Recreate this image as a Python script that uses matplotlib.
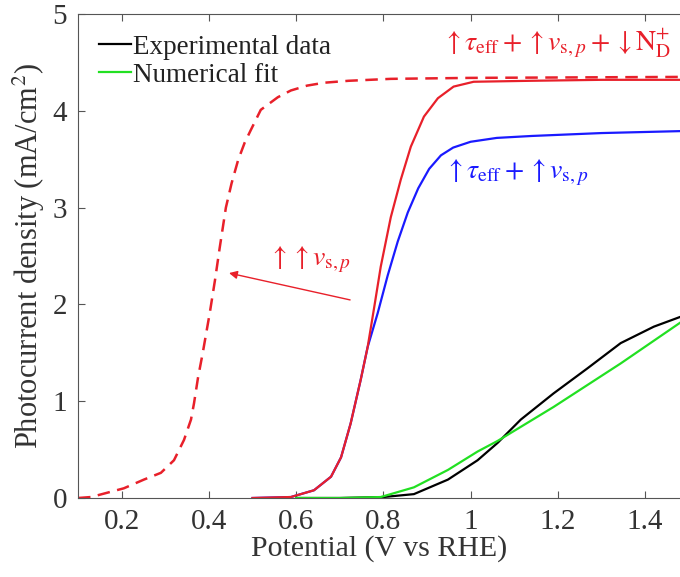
import numpy as np
import matplotlib
matplotlib.use("Agg")
import matplotlib.pyplot as plt

plt.rcParams['font.family'] = ['Liberation Serif', 'DejaVu Serif']
plt.rcParams['mathtext.fontset'] = 'stix'

# Simulated curve: higher surface rate (dashed red)
v_dash = [0.10, 0.13, 0.205, 0.251, 0.29, 0.32, 0.343, 0.359, 0.366, 0.375,
          0.386, 0.402, 0.414, 0.425, 0.439, 0.452, 0.467, 0.482, 0.496, 0.519,
          0.558, 0.588, 0.625, 0.664, 0.72, 0.817, 1.00, 1.48]
j_dash = [0.00, 0.01, 0.10, 0.19, 0.26, 0.39, 0.60, 0.81, 0.98, 1.24,
          1.50, 1.91, 2.25, 2.59, 3.00, 3.25, 3.49, 3.67, 3.80, 4.01,
          4.14, 4.21, 4.26, 4.29, 4.31, 4.33, 4.34, 4.35]

# tau_eff + v_s + N_D (solid red)
v_red = [0.50, 0.588, 0.641, 0.68, 0.703, 0.725, 0.748, 0.764, 0.779, 0.794,
         0.817, 0.84, 0.863, 0.893, 0.925, 0.961, 1.007, 1.138, 1.30, 1.48]
j_red = [0.00, 0.01, 0.08, 0.22, 0.42, 0.77, 1.22, 1.56, 1.97, 2.39,
         2.90, 3.29, 3.63, 3.94, 4.13, 4.25, 4.30, 4.31, 4.32, 4.32]

# tau_eff + v_s (blue)
v_blue = [0.50, 0.588, 0.641, 0.68, 0.703, 0.725, 0.748, 0.764, 0.787, 0.810,
          0.833, 0.856, 0.880, 0.905, 0.932, 0.960, 1.00, 1.06, 1.14, 1.30, 1.48]
j_blue = [0.00, 0.01, 0.08, 0.22, 0.42, 0.77, 1.22, 1.56, 1.91, 2.30,
          2.65, 2.95, 3.20, 3.40, 3.54, 3.62, 3.68, 3.72, 3.74, 3.77, 3.79]

# Experimental data
v_exp = [0.60, 0.70, 0.80, 0.87, 0.948, 1.016, 1.062, 1.115, 1.19,
         1.268, 1.344, 1.42, 1.48]
j_exp = [0.00, 0.00, 0.01, 0.04, 0.19, 0.39, 0.57, 0.81, 1.08,
         1.34, 1.60, 1.77, 1.87]

# Numerical fit
v_fit = [0.60, 0.70, 0.794, 0.87, 0.948, 1.016, 1.062, 1.19, 1.344, 1.48]
j_fit = [0.00, 0.00, 0.01, 0.11, 0.29, 0.48, 0.59, 0.94, 1.39, 1.81]

fig = plt.figure(figsize=(6.8, 5.77), dpi=100)
ax = fig.add_axes([78 / 680, 79 / 577, 602 / 680, 484 / 577])

ax.plot(v_dash, j_dash, color='#e8202a', lw=1.8, ls=(0, (5, 3)))
ax.plot(v_blue, j_blue, color='#1a1aff', lw=1.6)
ax.plot(v_red, j_red, color='#e8202a', lw=1.6)
ax.plot(v_exp, j_exp, color='black', lw=1.6, label='Experimental data')
ax.plot(v_fit, j_fit, color='#22e022', lw=1.6, label='Numerical fit')

ax.set_xlim(0.1, 1.48)
ax.set_ylim(0, 5)
ax.set_xticks([0.2, 0.4, 0.6, 0.8, 1.0, 1.2, 1.4])
ax.set_xticklabels(['0.2', '0.4', '0.6', '0.8', '1', '1.2', '1.4'])
ax.set_yticks([0, 1, 2, 3, 4, 5])

for side in ['left', 'bottom', 'top']:
    ax.spines[side].set_color('#555555')
ax.spines['right'].set_visible(False)
ax.tick_params(direction='in', top=True, length=5, width=0.8, color='#555555',
               labelsize=21, labelcolor='#333333', pad=8)

ax.set_xlabel('Potential (V vs RHE)', fontsize=21.5, color='#333333', labelpad=0)
ax.set_ylabel('Photocurrent density (mA/cm$^2$)', fontsize=22, color='#333333',
              labelpad=4)

leg = ax.legend(loc='upper left', frameon=False, fontsize=19.5, handlelength=1.2,
                handletextpad=0.05, borderaxespad=0.1, labelspacing=0.1,
                bbox_to_anchor=(0.012, 0.985))
for t in leg.get_texts():
    t.set_color('#222222')

red_lbl = r'$\uparrow\tau_{\rm eff}+\uparrow v_{{\rm s},p}+\downarrow{\rm N}_{\rm D}^{+}$'
ax.text(0.935, 4.52, red_lbl, color='#e8202a', fontsize=20, ha='left', va='bottom')
ax.text(0.94, 3.20, r'$\uparrow\tau_{\rm eff}+\uparrow v_{{\rm s},p}$', color='#1a1aff',
        fontsize=20, ha='left', va='bottom')
ax.text(0.535, 2.30, r'$\uparrow\uparrow v_{{\rm s},p}$', color='#e8202a',
        fontsize=20, ha='left', va='bottom')
ax.annotate('', xy=(0.44, 2.33), xytext=(0.73, 2.04),
            arrowprops=dict(arrowstyle='-|>', color='#e8202a', lw=1.0,
                            mutation_scale=12))

fig.savefig('out.png', dpi=100)
